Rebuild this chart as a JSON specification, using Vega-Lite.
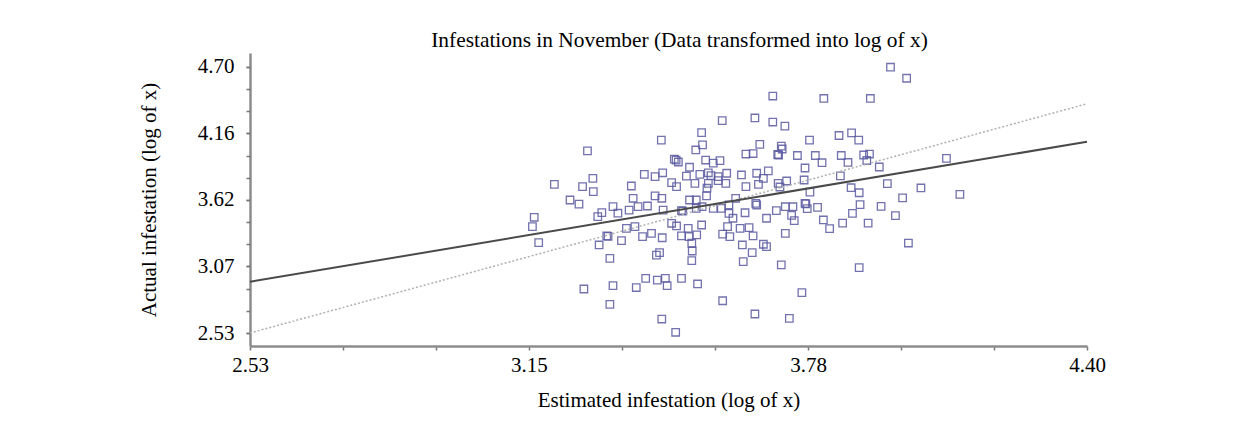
{
  "$schema": "https://vega.github.io/schema/vega-lite/v6.json",
  "width": 837,
  "height": 293,
  "autosize": "none",
  "padding": {"left": 250, "top": 53, "right": 172, "bottom": 81},
  "background": "white",
  "config": {"view": {"stroke": null}, "font": "Liberation Serif"},
  "title": {"text": "Infestations in November (Data transformed into log of x)", "font": "Liberation Serif", "fontSize": 21.4, "fontWeight": "normal", "color": "#000", "anchor": "middle", "dx": 11, "offset": 2},
  "resolve": {"axis": {"y": "independent"}},
  "layer": [
    {
      "data": {"values": [
        {"est":3.698,"act":4.463},{"est":3.585,"act":4.262},{"est":3.658,"act":4.284},{"est":3.698,"act":4.251},{"est":3.725,"act":4.218},
        {"est":3.539,"act":4.164},{"est":3.449,"act":4.104},{"est":3.541,"act":4.064},{"est":3.526,"act":4.023},{"est":3.284,"act":4.015},
        {"est":3.669,"act":4.069},{"est":3.638,"act":3.990},{"est":3.654,"act":3.994},{"est":3.717,"act":4.055},{"est":3.719,"act":4.031},
        {"est":3.709,"act":3.986},{"est":3.711,"act":3.982},{"est":3.753,"act":3.978},{"est":3.478,"act":3.949},{"est":3.487,"act":3.925},
        {"est":3.482,"act":3.940},{"est":3.548,"act":3.941},{"est":3.580,"act":3.936},{"est":3.565,"act":3.915},{"est":3.512,"act":3.882},
        {"est":3.411,"act":3.824},{"est":3.435,"act":3.805},{"est":3.452,"act":3.837},{"est":3.505,"act":3.810},{"est":3.535,"act":3.824},
        {"est":3.554,"act":3.837},{"est":3.560,"act":3.813},{"est":3.576,"act":3.805},{"est":3.595,"act":3.833},{"est":3.628,"act":3.819},
        {"est":3.662,"act":3.833},{"est":3.688,"act":3.852},{"est":3.677,"act":3.792},{"est":3.710,"act":3.751},{"est":3.729,"act":3.770},
        {"est":3.210,"act":3.743},{"est":3.273,"act":3.724},{"est":3.296,"act":3.792},{"est":3.297,"act":3.683},{"est":3.382,"act":3.729},
        {"est":3.472,"act":3.756},{"est":3.483,"act":3.724},{"est":3.524,"act":3.751},{"est":3.554,"act":3.751},{"est":3.576,"act":3.773},
        {"est":3.593,"act":3.751},{"est":3.551,"act":3.711},{"est":3.638,"act":3.724},{"est":3.666,"act":3.743},{"est":3.714,"act":3.721},
        {"est":3.245,"act":3.615},{"est":3.265,"act":3.582},{"est":3.386,"act":3.629},{"est":3.435,"act":3.648},{"est":3.450,"act":3.629},
        {"est":3.512,"act":3.615},{"est":3.527,"act":3.615},{"est":3.550,"act":3.648},{"est":3.615,"act":3.629},{"est":3.662,"act":3.574},
        {"est":3.726,"act":3.560},{"est":3.743,"act":3.560},{"est":3.165,"act":3.474},{"est":3.161,"act":3.397},{"est":3.307,"act":3.479},
        {"est":3.316,"act":3.512},{"est":3.341,"act":3.561},{"est":3.352,"act":3.507},{"est":3.377,"act":3.533},{"est":3.397,"act":3.561},
        {"est":3.418,"act":3.566},{"est":3.453,"act":3.533},{"est":3.494,"act":3.529},{"est":3.497,"act":3.525},{"est":3.527,"act":3.547},
        {"est":3.540,"act":3.560},{"est":3.565,"act":3.547},{"est":3.583,"act":3.547},{"est":3.600,"act":3.574},{"est":3.600,"act":3.506},
        {"est":3.609,"act":3.466},{"est":3.636,"act":3.511},{"est":3.660,"act":3.588},{"est":3.684,"act":3.466},{"est":3.706,"act":3.528},
        {"est":3.740,"act":3.489},{"est":3.746,"act":3.446},{"est":3.175,"act":3.267},{"est":3.310,"act":3.248},{"est":3.327,"act":3.322},
        {"est":3.330,"act":3.318},{"est":3.360,"act":3.283},{"est":3.371,"act":3.384},{"est":3.390,"act":3.397},{"est":3.407,"act":3.316},
        {"est":3.427,"act":3.343},{"est":3.451,"act":3.307},{"est":3.438,"act":3.166},{"est":3.445,"act":3.185},{"est":3.334,"act":3.139},
        {"est":3.472,"act":3.425},{"est":3.483,"act":3.403},{"est":3.509,"act":3.384},{"est":3.494,"act":3.322},{"est":3.511,"act":3.316},
        {"est":3.528,"act":3.330},{"est":3.517,"act":3.262},{"est":3.518,"act":3.199},{"est":3.517,"act":3.120},{"est":3.539,"act":3.411},
        {"est":3.586,"act":3.336},{"est":3.602,"act":3.316},{"est":3.625,"act":3.384},{"est":3.645,"act":3.389},{"est":3.654,"act":3.322},
        {"est":3.630,"act":3.248},{"est":3.652,"act":3.185},{"est":3.632,"act":3.112},{"est":3.677,"act":3.254},{"est":3.684,"act":3.234},
        {"est":3.717,"act":3.085},{"est":3.726,"act":3.343},{"est":3.597,"act":3.397},{"est":3.414,"act":2.976},{"est":3.440,"act":2.962},
        {"est":3.458,"act":2.976},{"est":3.462,"act":2.916},{"est":3.494,"act":2.976},{"est":3.530,"act":2.930},{"est":3.341,"act":2.917},
        {"est":3.393,"act":2.901},{"est":3.276,"act":2.889},{"est":3.334,"act":2.764},{"est":3.586,"act":2.793},{"est":3.450,"act":2.644},
        {"est":3.481,"act":2.536},{"est":3.658,"act":2.685},{"est":3.735,"act":2.650},
        {"est":3.961,"act":4.698},{"est":3.997,"act":4.608},{"est":3.812,"act":4.443},{"est":3.916,"act":4.443},{"est":3.780,"act":4.104},
        {"est":3.846,"act":4.141},{"est":3.874,"act":4.162},{"est":3.890,"act":4.104},{"est":3.793,"act":3.978},{"est":3.808,"act":3.919},
        {"est":3.770,"act":3.876},{"est":3.851,"act":3.978},{"est":3.866,"act":3.921},{"est":3.901,"act":3.982},{"est":3.914,"act":3.990},
        {"est":3.908,"act":3.937},{"est":3.936,"act":3.884},{"est":4.086,"act":3.955},{"est":3.768,"act":3.778},{"est":3.849,"act":3.811},
        {"est":3.954,"act":3.748},{"est":4.029,"act":3.713},{"est":4.116,"act":3.661},{"est":3.781,"act":3.679},{"est":3.873,"act":3.715},
        {"est":3.891,"act":3.674},{"est":3.988,"act":3.632},{"est":3.770,"act":3.588},{"est":3.772,"act":3.584},{"est":3.775,"act":3.544},
        {"est":3.798,"act":3.555},{"est":3.811,"act":3.452},{"est":3.825,"act":3.382},{"est":3.854,"act":3.427},{"est":3.876,"act":3.506},
        {"est":3.893,"act":3.577},{"est":3.911,"act":3.427},{"est":3.940,"act":3.563},{"est":3.972,"act":3.487},{"est":4.001,"act":3.264},
        {"est":3.891,"act":3.063},{"est":3.763,"act":2.860}
      ]},
      "mark": {"type": "point", "shape": "square", "filled": false, "size": 56, "strokeWidth": 1.3, "color": "#5a5aa0", "opacity": 0.85},
      "encoding": {
        "x": {"field": "est", "type": "quantitative",
          "scale": {"domain": [2.53, 4.40], "zero": false, "nice": false},
          "axis": {"values": [2.53, 2.7378, 2.9456, 3.1533, 3.3611, 3.5689, 3.7767, 3.9844, 4.1922, 4.40],
            "labelExpr": "abs(datum.value-2.53)<0.01 ? '2.53' : abs(datum.value-3.1533)<0.01 ? '3.15' : abs(datum.value-3.7767)<0.01 ? '3.78' : abs(datum.value-4.40)<0.01 ? '4.40' : ''",
            "title": "Estimated infestation (log of x)", "titleFont": "Liberation Serif", "titleFontSize": 21, "titleFontWeight": "normal", "titleColor": "#000", "titlePadding": 14,
            "labelFont": "Liberation Serif", "labelFontSize": 21, "labelColor": "#000", "labelPadding": 4, "labelFlush": false, "labelOverlap": false,
            "domainColor": "#8c8c8c", "domainWidth": 2.5, "tickColor": "#777", "tickSize": 4, "tickWidth": 1.5, "grid": false}},
        "y": {"field": "act", "type": "quantitative",
          "scale": {"domain": [2.424, 4.814], "zero": false, "nice": false},
          "axis": {"orient": "left", "values": [2.53, 3.0725, 3.615, 4.1575, 4.70],
            "labelExpr": "abs(datum.value-2.53)<0.01 ? '2.53' : abs(datum.value-3.0725)<0.01 ? '3.07' : abs(datum.value-3.615)<0.01 ? '3.62' : abs(datum.value-4.1575)<0.01 ? '4.16' : '4.70'",
            "title": "Actual infestation (log of x)", "titleFont": "Liberation Serif", "titleFontSize": 21, "titleFontWeight": "normal", "titleColor": "#000", "titlePadding": 38,
            "labelFont": "Liberation Serif", "labelFontSize": 21, "labelColor": "#000", "labelPadding": 12, "labelFlush": false, "labelOverlap": false,
            "domainColor": "#8c8c8c", "domainWidth": 2.5, "tickColor": "#777", "tickSize": 4, "tickWidth": 1.5, "grid": false}}
      }
    },
    {
      "data": {"values": [{"est": 2.53, "act": 2.53}, {"est": 4.40, "act": 4.40}]},
      "mark": {"type": "line", "color": "#b0b0b0", "strokeWidth": 1.5, "strokeDash": [2, 2]},
      "encoding": {
        "x": {"field": "est", "type": "quantitative"},
        "y": {"field": "act", "type": "quantitative",
          "axis": {"orient": "left", "values": [2.53, 2.7108, 2.8917, 3.0725, 3.2533, 3.4342, 3.615, 3.7958, 3.9767, 4.1575, 4.3383, 4.5192, 4.70],
            "labels": false, "domain": false, "title": null, "grid": false, "tickColor": "#777", "tickSize": 4, "tickWidth": 1.5}}
      }
    },
    {
      "data": {"values": [{"est": 2.53, "act": 2.948}, {"est": 4.40, "act": 4.090}]},
      "mark": {"type": "line", "color": "#4a4a4a", "strokeWidth": 2},
      "encoding": {"x": {"field": "est", "type": "quantitative"}, "y": {"field": "act", "type": "quantitative", "axis": null}}
    }
  ]
}
